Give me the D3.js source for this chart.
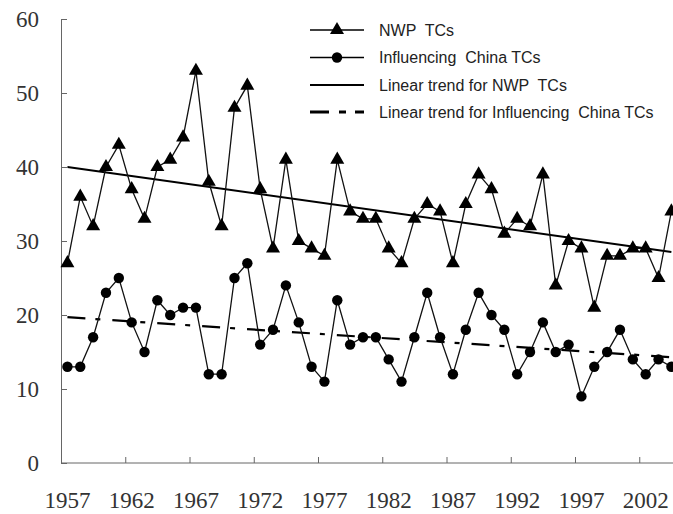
<!DOCTYPE html>
<html><head><meta charset="utf-8">
<script src="https://cdn.jsdelivr.net/npm/d3@7"></script>
<style>body{margin:0;background:#fff}svg{display:block}</style>
</head><body>
<svg id="c" width="673" height="514"></svg>
<script>
const years = d3.range(1957, 2005);
const nwp = [27,36,32,40,43,37,33,40,41,44,53,38,32,48,51,37,29,41,30,29,28,41,34,33,33,29,27,33,35,34,27,35,39,37,31,33,32,39,24,30,29,21,28,28,29,29,25,34];
const china = [13,13,17,23,25,19,15,22,20,21,21,12,12,25,27,16,18,24,19,13,11,22,16,17,17,14,11,17,23,17,12,18,23,20,18,12,15,19,15,16,9,13,15,18,14,12,14,13];
const trendYears = [1957, 2004];
const trendNWP = [40.0, 28.5];
const trendChina = [19.7, 14.3];
const yTicks = [0,10,20,30,40,50,60];
const xLabels = [1957,1962,1967,1972,1977,1982,1987,1992,1997,2002];
const legendLabels = ["NWP  TCs","Influencing  China TCs","Linear trend for NWP  TCs","Linear trend for Influencing  China TCs"];

const svg = d3.select("#c");
const x = d3.scaleLinear().domain([1956.5, 2004.5]).range([61, 61 + 48*12.85]);
const y = d3.scaleLinear().domain([0, 60]).range([463, 19]);
const axisColor = "#666", textColor = "#333";

// y axis
const gy = svg.append("g").attr("transform","translate(61,0)")
  .call(d3.axisLeft(y).tickValues(yTicks).tickSizeInner(-6).tickSizeOuter(0).tickPadding(22));
gy.select(".domain").attr("stroke", axisColor);
gy.selectAll(".tick line").attr("stroke", axisColor);
gy.selectAll(".tick text").attr("fill", textColor).attr("font-family","'Liberation Serif','DejaVu Serif',serif").attr("font-size", 23);

// x axis
const bounds = d3.range(1961.5, 2004, 5);
const gx = svg.append("g").attr("transform","translate(0,463)")
  .call(d3.axisBottom(x).tickValues(bounds).tickSizeInner(-6).tickSizeOuter(0).tickFormat(""));
gx.select(".domain").attr("stroke", axisColor).attr("d", `M61,0H673`);
gx.selectAll(".tick line").attr("stroke", axisColor);
svg.append("g").selectAll("text").data(xLabels).join("text")
  .attr("x", d => x(d)).attr("y", 508).attr("text-anchor","middle")
  .attr("fill", textColor).attr("font-family","'Liberation Serif','DejaVu Serif',serif").attr("font-size", 23)
  .text(d => d);

// trend lines
const tl = d3.line().x(d => x(d[0])).y(d => y(d[1]));
svg.append("path").datum(trendYears.map((t,i)=>[t,trendNWP[i]])).attr("d", tl)
  .attr("fill","none").attr("stroke","#000").attr("stroke-width",2);
svg.append("path").datum(trendYears.map((t,i)=>[t,trendChina[i]])).attr("d", tl)
  .attr("fill","none").attr("stroke","#000").attr("stroke-width",2.2).attr("stroke-dasharray","18,10,5,12");

// data lines
const line = d3.line().x((d,i) => x(years[i])).y(d => y(d));
svg.append("path").datum(nwp).attr("d", line).attr("fill","none").attr("stroke","#111").attr("stroke-width",1.3);
svg.append("path").datum(china).attr("d", line).attr("fill","none").attr("stroke","#111").attr("stroke-width",1.3);
const tri = d3.symbol().type(d3.symbolTriangle).size(85);
svg.append("g").selectAll("path").data(nwp).join("path")
  .attr("d", tri).attr("transform",(d,i)=>`translate(${x(years[i])},${y(d)})`).attr("fill","#000");
svg.append("g").selectAll("circle").data(china).join("circle")
  .attr("cx",(d,i)=>x(years[i])).attr("cy", d=>y(d)).attr("r",5.2).attr("fill","#000");

// legend
const lg = svg.append("g");
const rowsY = [30, 57.5, 85, 112];
const lx0 = 310, lx1 = 364;
rowsY.forEach((ry,i) => {
  const ln = lg.append("line").attr("x1",lx0).attr("x2",lx1).attr("y1",ry).attr("y2",ry).attr("stroke","#000");
  if (i < 2) ln.attr("stroke-width",1.3);
  else if (i === 2) ln.attr("stroke-width",2);
  else ln.attr("stroke-width",3).attr("stroke-dasharray","19,10,7,9");
  if (i === 0) lg.append("path").attr("d", tri).attr("transform",`translate(${(lx0+lx1)/2},${ry})`).attr("fill","#000");
  if (i === 1) lg.append("circle").attr("cx",(lx0+lx1)/2).attr("cy",ry).attr("r",5.2).attr("fill","#000");
  lg.append("text").attr("x",379).attr("y",ry+5.5).attr("fill","#222")
    .attr("font-family","'Liberation Sans',Arial,sans-serif").attr("font-size",16)
    .style("white-space","pre").text(legendLabels[i]);
});
</script>
</body></html>
